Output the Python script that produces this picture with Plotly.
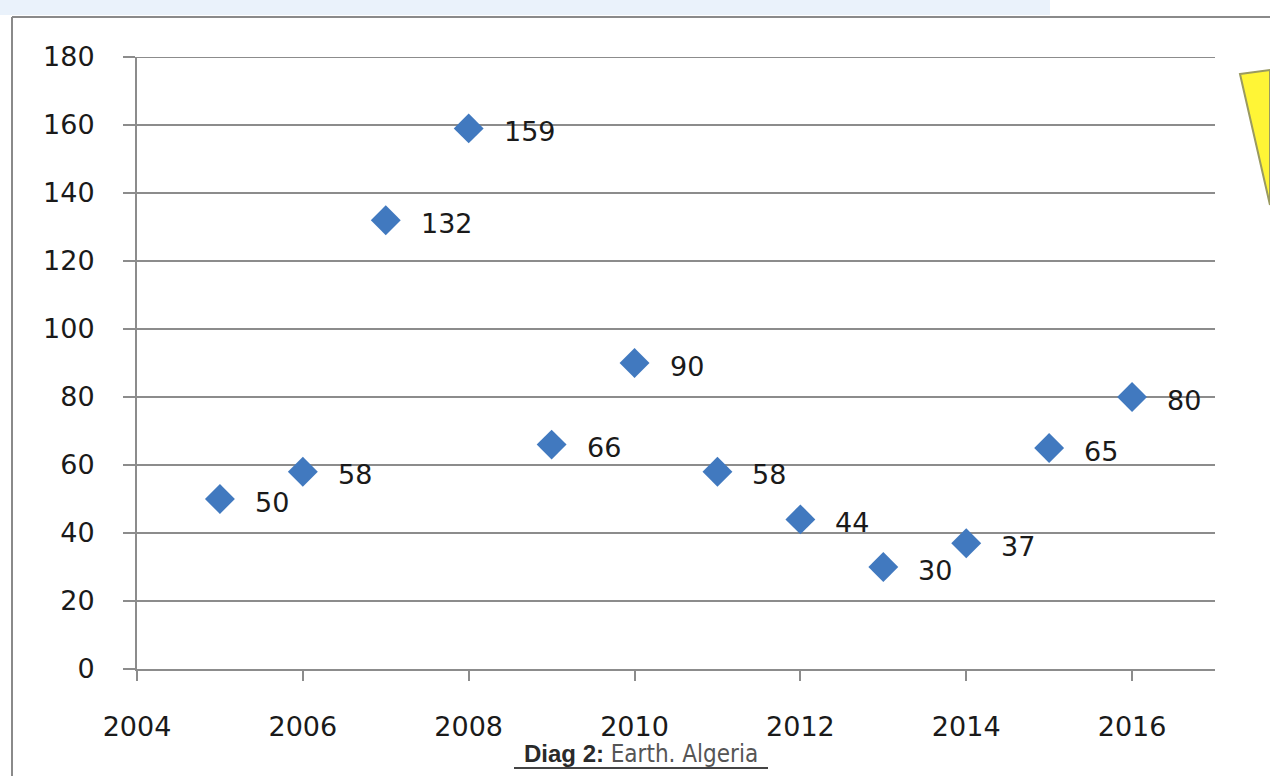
import plotly.graph_objects as go

# Yearly counts, 2005-2016
years = [2005, 2006, 2007, 2008, 2009, 2010, 2011, 2012, 2013, 2014, 2015, 2016]
counts = [50, 58, 132, 159, 66, 90, 58, 44, 30, 37, 65, 80]
x_ticks = [2004, 2006, 2008, 2010, 2012, 2014, 2016]
y_ticks = [0, 20, 40, 60, 80, 100, 120, 140, 160, 180]

W, H = 1270, 776
L, R, T, B = 137, 55, 57, 107
PW, PH = W - L - R, H - T - B


def px(x):
    return (x - L) / PW


def py(y):
    return (H - B - y) / PH


GRID = "#8c8c8c"
BLUE = "#4179bf"
FONT = "DejaVu Sans"
FS = 27

fig = go.Figure()
fig.add_trace(go.Scatter(
    x=years, y=counts, mode="markers",
    marker=dict(symbol="diamond", size=23, color=BLUE, line=dict(width=0)),
    hoverinfo="x+y", showlegend=False,
))

annotations = []
for xv, yv in zip(years, counts):
    annotations.append(dict(
        x=xv, y=yv, xref="x", yref="y", text=str(yv), showarrow=False,
        xanchor="left", yanchor="middle", xshift=33, yshift=-3,
        font=dict(family=FONT, size=FS, color="#1a1a1a"),
    ))

# caption under the axis
annotations.append(dict(
    x=px(641), y=py(754), xref="paper", yref="paper", showarrow=False,
    xanchor="center", yanchor="middle",
    text=("<b>Diag 2:</b> <span style='font-family:\"Arial Narrow\",\"Liberation Sans Narrow\","
          "\"DejaVu Sans Condensed\",\"Liberation Sans\";color:#555555'>Earth. Algeria</span>"),
    font=dict(family="Liberation Sans", size=24, color="#2a2a2a"),
))

shapes = [
    # light blue band along the top
    dict(type="rect", xref="paper", yref="paper", x0=px(0), x1=px(1050), y0=py(0), y1=py(15),
         fillcolor="#eaf2fb", line=dict(width=0), layer="below"),
    # outer frame (top and left edges)
    dict(type="line", xref="paper", yref="paper", x0=px(12), x1=px(1270), y0=py(17), y1=py(17),
         line=dict(color="#8a8a8a", width=2)),
    dict(type="line", xref="paper", yref="paper", x0=px(12), x1=px(12), y0=py(17), y1=py(776),
         line=dict(color="#8a8a8a", width=2)),
    # top gridline at 180
    dict(type="line", xref="paper", yref="y", x0=0, x1=1, y0=180, y1=180,
         line=dict(color=GRID, width=2)),
    # caption underline
    dict(type="line", xref="paper", yref="paper", x0=px(514), x1=px(768), y0=py(768), y1=py(768),
         line=dict(color="#444444", width=2)),
    # yellow note at the right edge
    dict(type="path", xref="paper", yref="paper",
         path=f"M {px(1240)},{py(74)} L {px(1270)},{py(70)} L {px(1270)},{py(205)} Z",
         fillcolor="#fff536", line=dict(color="#9a9a60", width=2)),
]

fig.update_layout(
    width=W, height=H,
    margin=dict(l=L, r=R, t=T, b=B, pad=0),
    paper_bgcolor="white", plot_bgcolor="white",
    annotations=annotations, shapes=shapes,
    xaxis=dict(
        range=[2004, 2017], tickvals=x_ticks, ticktext=[str(v) for v in x_ticks],
        showgrid=False, zeroline=False,
        showline=True, linecolor=GRID, linewidth=2,
        ticks="outside", ticklen=10, tickwidth=2, tickcolor=GRID,
        ticklabelstandoff=23,
        tickfont=dict(family=FONT, size=FS, color="#1a1a1a"),
    ),
    yaxis=dict(
        range=[0, 180], tickvals=y_ticks,
        showgrid=True, gridcolor=GRID, gridwidth=2, zeroline=False,
        showline=True, linecolor=GRID, linewidth=2,
        ticks="outside", ticklen=12, tickwidth=2, tickcolor=GRID,
        ticklabelstandoff=23,
        tickfont=dict(family=FONT, size=FS, color="#1a1a1a"),
    ),
)

fig.write_html("out.html")
